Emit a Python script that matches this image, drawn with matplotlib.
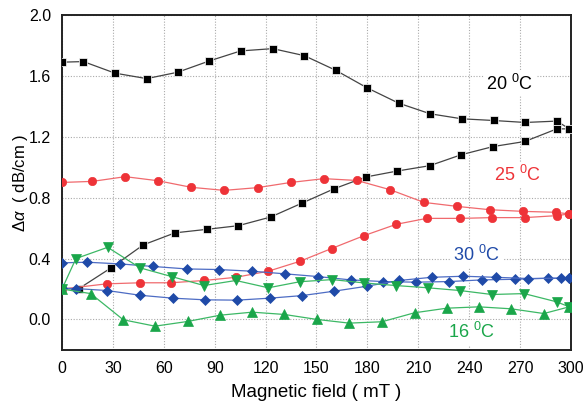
import matplotlib
matplotlib.use("Agg")
import matplotlib.pyplot as plt

plt.rcParams['font.family'] = ['Liberation Sans', 'DejaVu Sans']
plt.rcParams['mathtext.fontset'] = 'custom'
plt.rcParams['mathtext.rm'] = 'Liberation Sans'
plt.rcParams['mathtext.it'] = 'Liberation Sans:italic'

# 20 C (black squares)
x20_down = [0, 12.6, 31.2, 49.9, 68.2, 86.8, 105.3, 124.2, 142.8, 161.3, 179.9, 198.4, 217.0, 235.7, 254.4, 273.0, 291.7, 299.0]
y20_down = [1.69, 1.694, 1.618, 1.582, 1.624, 1.698, 1.764, 1.779, 1.733, 1.637, 1.521, 1.421, 1.351, 1.318, 1.307, 1.294, 1.303, 1.252]
x20_up = [0, 10.0, 28.9, 47.9, 66.6, 85.3, 103.9, 123.0, 141.6, 160.5, 179.1, 197.6, 216.7, 235.3, 254.2, 272.8, 291.7, 299.0]
y20_up = [0.20, 0.203, 0.339, 0.49, 0.569, 0.592, 0.616, 0.673, 0.765, 0.859, 0.936, 0.975, 1.01, 1.082, 1.136, 1.169, 1.252, 1.252]

# 25 C (red circles)
x25_down = [0, 17.9, 37.3, 56.7, 76.2, 95.6, 115.3, 134.8, 154.4, 173.8, 193.5, 213.3, 232.8, 252.0, 271.8, 291.1, 299.0]
y25_down = [0.90, 0.907, 0.938, 0.911, 0.868, 0.848, 0.866, 0.90, 0.925, 0.913, 0.852, 0.769, 0.743, 0.721, 0.710, 0.704, 0.693]
x25_up = [0, 26.3, 46.0, 64.2, 83.7, 102.5, 121.6, 140.2, 158.9, 178.1, 197.0, 214.9, 234.7, 253.4, 272.7, 291.5, 299.0]
y25_up = [0.20, 0.234, 0.241, 0.241, 0.256, 0.277, 0.317, 0.382, 0.466, 0.551, 0.625, 0.664, 0.664, 0.669, 0.669, 0.682, 0.693]

# 30 C (blue diamonds)
x30_down = [0, 14.9, 34.2, 53.8, 73.5, 92.3, 112.0, 131.2, 150.7, 170.1, 189.3, 208.6, 228.2, 247.5, 267.1, 286.6, 299.0]
y30_down = [0.372, 0.376, 0.365, 0.348, 0.332, 0.328, 0.317, 0.300, 0.282, 0.260, 0.249, 0.245, 0.249, 0.260, 0.264, 0.271, 0.271]
x30_up = [0, 8.2, 26.7, 46.0, 65.2, 84.3, 103.3, 122.6, 141.6, 160.5, 179.5, 198.6, 217.9, 236.5, 255.7, 274.8, 293.9, 299.0]
y30_up = [0.205, 0.203, 0.190, 0.159, 0.140, 0.129, 0.127, 0.140, 0.157, 0.186, 0.218, 0.256, 0.277, 0.284, 0.277, 0.269, 0.271, 0.271]

# 16 C (green triangles)
x16_a = [0, 8.2, 26.9, 46.0, 64.6, 83.7, 102.5, 121.6, 140.2, 159.3, 178.1, 196.6, 215.7, 234.7, 253.4, 272.4, 291.5, 299.0]
y16_a = [0.20, 0.40, 0.474, 0.339, 0.282, 0.223, 0.256, 0.208, 0.248, 0.262, 0.240, 0.223, 0.208, 0.190, 0.164, 0.170, 0.116, 0.083]
x16_b = [0, 16.9, 36.1, 54.8, 74.1, 93.1, 112.1, 131.0, 150.4, 169.3, 188.6, 207.8, 226.7, 245.7, 264.8, 284.0, 299.0]
y16_b = [0.20, 0.170, -0.002, -0.044, -0.013, 0.028, 0.048, 0.033, 0.0, -0.024, -0.015, 0.044, 0.074, 0.083, 0.070, 0.039, 0.083]

xticks = [0, 30, 60, 90, 120, 150, 180, 210, 240, 270, 300]
yticks = [0.0, 0.4, 0.8, 1.2, 1.6, 2.0]

fig = plt.figure(figsize=(5.85, 4.05), dpi=100)
ax = fig.add_axes([0.106, 0.136, 0.870, 0.827])

c_black, l_black = '#000000', '#444444'
c_red, l_red = '#ee3338', '#f06a6e'
c_blue, l_blue = '#1f4aa8', '#4d6cc4'
c_green, l_green = '#1aa64a', '#3cb865'

kw = dict(linewidth=0.9, markeredgewidth=0.5, zorder=3)
ax.plot(x20_down, y20_down, '-', color=l_black, marker='s', markersize=5.5, markerfacecolor=c_black, markeredgecolor='white', **kw)
ax.plot(x20_up, y20_up, '-', color=l_black, marker='s', markersize=5.5, markerfacecolor=c_black, markeredgecolor='white', **kw)
ax.plot(x25_down, y25_down, '-', color=l_red, marker='o', markersize=6, markerfacecolor=c_red, markeredgecolor=c_red, **kw)
ax.plot(x25_up, y25_up, '-', color=l_red, marker='o', markersize=6, markerfacecolor=c_red, markeredgecolor=c_red, **kw)
ax.plot(x30_down, y30_down, '-', color=l_blue, marker='D', markersize=5.5, markerfacecolor=c_blue, markeredgecolor=c_blue, **kw)
ax.plot(x30_up, y30_up, '-', color=l_blue, marker='D', markersize=5.5, markerfacecolor=c_blue, markeredgecolor=c_blue, **kw)
ax.plot(x16_a, y16_a, '-', color=l_green, marker='v', markersize=7, markerfacecolor=c_green, markeredgecolor=c_green, **kw)
ax.plot(x16_b, y16_b, '-', color=l_green, marker='^', markersize=7, markerfacecolor=c_green, markeredgecolor=c_green, **kw)

ax.set_xlim(0, 300)
ax.set_ylim(-0.2, 2.0)
ax.set_xticks(xticks)
ax.set_yticks(yticks)
ax.set_xticklabels([str(t) for t in xticks])
ax.set_yticklabels([f'{t:.1f}' for t in yticks])
ax.tick_params(length=0, labelsize=11.5, pad=8)
ax.grid(True, linestyle=(0, (1, 1.5)), color='#aaaaaa', linewidth=0.8, zorder=0)
for s in ax.spines.values():
    s.set_linewidth(1.4)
    s.set_color('#222222')

ax.set_xlabel('Magnetic field ( mT )', fontsize=13.5, labelpad=6)
ax.set_ylabel(r'$\Delta\alpha$  ( dB/cm )', fontsize=12, labelpad=-1)

bb = dict(facecolor='white', edgecolor='none', pad=2)
ax.text(264, 1.55, r'20 $^{0}$C', fontsize=13, color='black', ha='center', va='center', bbox=bb, zorder=4)
ax.text(268.5, 0.95, r'25 $^{0}$C', fontsize=13, color=c_red, ha='center', va='center', bbox=bb, zorder=4)
ax.text(244.5, 0.425, r'30 $^{0}$C', fontsize=13, color=c_blue, ha='center', va='center', bbox=bb, zorder=4)
ax.text(241.5, -0.085, r'16 $^{0}$C', fontsize=13, color=c_green, ha='center', va='center', bbox=bb, zorder=2)

fig.savefig('out.png', dpi=100)
